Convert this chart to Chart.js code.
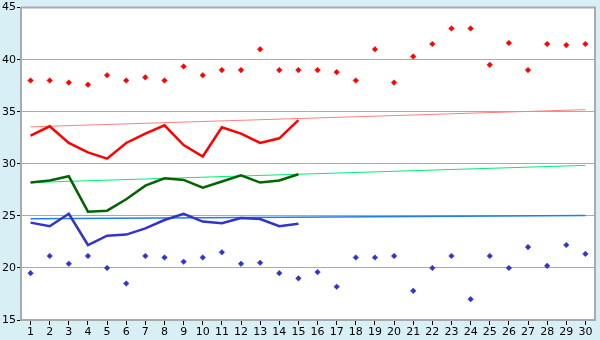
<!DOCTYPE html>
<html><head><meta charset="utf-8">
<script src="https://cdn.jsdelivr.net/npm/chart.js@4"></script>
<style>html,body{margin:0;padding:0;background:#d9eff6;}#wrap{width:600px;height:340px;}</style>
</head><body><div id="wrap"><canvas id="c" width="600" height="340"></canvas></div>
<script>
const categories = Array.from({length:30},(_, i)=>String(i+1));
const redHigh = [38.0,38.0,37.8,37.6,38.5,38.0,38.3,38.0,39.35,38.5,39.0,39.0,41.0,39.0,39.0,39.0,38.8,38.0,41.0,37.8,40.3,41.5,43.0,43.0,39.5,41.6,39.0,41.5,41.4,41.5];
const redLine = [32.7,33.6,32.0,31.1,30.5,32.0,32.9,33.7,31.8,30.7,33.5,32.9,32.0,32.45,34.2];
const greenLine = [28.2,28.4,28.8,25.4,25.5,26.6,27.9,28.6,28.45,27.7,28.3,28.9,28.2,28.4,29.0];
const blueLine = [24.35,24.0,25.2,22.2,23.1,23.2,23.8,24.6,25.2,24.45,24.3,24.8,24.7,24.0,24.25];
const blueLow = [19.5,21.15,20.4,21.15,20.0,18.5,21.15,21.0,20.6,21.0,21.5,20.4,20.5,19.5,19.0,19.6,18.2,21.0,21.0,21.15,17.8,20.0,21.15,17.0,21.15,20.0,22.0,20.2,22.2,21.35];
const redTrend = [33.55, 35.2];
const greenTrend = [28.2, 29.85];
const blueTrend = [24.72, 25.03];
const yTicks = [15,20,25,30,35,40,45];

function trend(ends){ const a = new Array(categories.length).fill(null); a[0]=ends[0]; a[a.length-1]=ends[1]; return a; }

const frame = {
  id:'frame',
  beforeDraw(chart){ const {ctx, chartArea:a} = chart; ctx.save(); ctx.fillStyle='#ffffff'; ctx.fillRect(a.left,a.top,a.right-a.left,a.bottom-a.top); ctx.restore(); },
  afterDatasetsDraw(chart){ const {ctx, chartArea:a} = chart; ctx.save(); ctx.strokeStyle='#aaaaaa'; ctx.lineWidth=2; ctx.beginPath(); ctx.moveTo(a.left,a.top); ctx.lineTo(a.right,a.top); ctx.lineTo(a.right,a.bottom); ctx.stroke(); ctx.restore(); }
};

new Chart(document.getElementById('c'), {
  type:'line',
  data:{ labels:categories, datasets:[
    {data:trend(redTrend), borderColor:'#ff8080', borderWidth:1, pointRadius:0, spanGaps:true, order:5},
    {data:trend(greenTrend), borderColor:'#00ee77', borderWidth:1, pointRadius:0, spanGaps:true, order:5},
    {data:trend(blueTrend), borderColor:'#1e7fe6', borderWidth:1.5, pointRadius:0, spanGaps:true, order:5},
    {data:redLine, borderColor:'#ff0000', borderWidth:2.5, pointRadius:0, order:1},
    {data:greenLine, borderColor:'#006400', borderWidth:2.5, pointRadius:0, order:1},
    {data:blueLine, borderColor:'#3333cc', borderWidth:2.5, pointRadius:0, order:1},
    {data:redHigh, showLine:false, pointStyle:'rectRot', pointRadius:2.8, backgroundColor:'#ff0000', borderColor:'#ff0000', borderWidth:0.5, order:0},
    {data:blueLow, showLine:false, pointStyle:'rectRot', pointRadius:2.8, backgroundColor:'#3333cc', borderColor:'#3333cc', borderWidth:0.5, order:0}
  ]},
  options:{
    responsive:false, animation:false, devicePixelRatio:1,
    layout:{padding:{top:5,right:5,left:0,bottom:0}},
    plugins:{legend:{display:false}, tooltip:{enabled:false}},
    elements:{line:{tension:0}},
    scales:{
      x:{ offset:true,
        grid:{offset:false, drawOnChartArea:false, drawTicks:true, tickLength:5, color:'#000000'},
        border:{color:'#aaaaaa', width:2},
        ticks:{color:'#000', font:{family:'DejaVu Sans', size:11}, padding:1, maxRotation:0, autoSkip:false},
        afterFit(s){ s.height = 20; }
      },
      y:{ min:15, max:45, afterBuildTicks(s){ s.ticks = yTicks.map(v=>({value:v})); },
        grid:{color:'#aaaaaa', lineWidth:1, tickLength:4, tickColor:'#000'},
        border:{color:'#aaaaaa', width:2},
        ticks:{color:'#000', font:{family:'DejaVu Sans', size:11}, padding:1},
        afterFit(s){ s.width = 21; }
      }
    }
  },
  plugins:[frame]
});
</script></body></html>
